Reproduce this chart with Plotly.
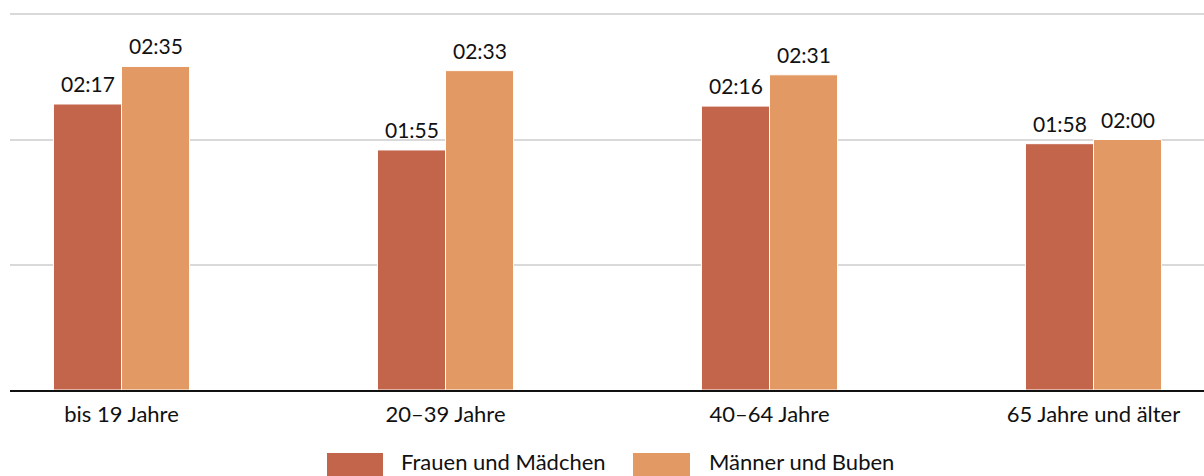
import plotly.graph_objects as go

categories = ["bis 19 Jahre", "20–39 Jahre", "40–64 Jahre", "65 Jahre und älter"]
frauen_min = [137, 115, 136, 118]   # minutes
maenner_min = [155, 153, 151, 120]  # minutes
series_names = ["Frauen und Mädchen", "Männer und Buben"]
colors = ["#C2654B", "#E29963"]

def fmt(m):
    return f"{m // 60:02d}:{m % 60:02d}"

FONT = "Lato"
W, H = 1204, 476
ML, MR, MT, MB = 10, 0, 13, 86

fig = go.Figure()
for name, vals, col in zip(series_names, [frauen_min, maenner_min], colors):
    fig.add_trace(go.Bar(
        x=categories, y=vals, name=name,
        marker=dict(color=col, line=dict(color="white", width=1)),
        showlegend=False, hoverinfo="skip",
    ))

# value labels above each bar (offset to the bar's side of the group)
for vals, xs in zip([frauen_min, maenner_min], [-34, 34]):
    for c, v in zip(categories, vals):
        fig.add_annotation(x=c, y=v, xshift=xs, yshift=6, yanchor="bottom",
                           showarrow=False, text=fmt(v),
                           font=dict(family=FONT, size=21, color="#111111"))

fig.update_layout(
    width=W, height=H,
    margin=dict(l=ML, r=MR, t=MT, b=MB),
    paper_bgcolor="white", plot_bgcolor="white",
    barmode="group", bargap=0.58, bargroupgap=0,
    font=dict(family=FONT, color="#111111"),
)
fig.update_xaxes(
    type="category",
    range=[(ML - 121.5) / 324, (W - 121.5) / 324],
    showline=True, linecolor="#111111", linewidth=1.5,
    showgrid=False, ticks="outside", ticklen=4, tickcolor="white",
    tickfont=dict(family=FONT, size=22, color="#111111"),
)
fig.update_yaxes(
    range=[0, 180.6], tickvals=[60, 120, 180], showticklabels=False,
    showgrid=True, gridcolor="#D9D9D9", gridwidth=2, zeroline=False,
)

# custom legend with large swatches
pw = W - ML - MR
ph = H - MT - MB
def px_x(p):
    return (p - ML) / pw
def px_y(p):
    return (H - MB - p) / ph

legend_items = [(327, 383, 399), (633, 690, 707)]
for (x0, x1, tx), name, col in zip(legend_items, series_names, colors):
    fig.add_shape(type="rect", xref="paper", yref="paper",
                  x0=px_x(x0), x1=px_x(x1), y0=px_y(480), y1=px_y(453),
                  fillcolor=col, line=dict(width=0))
    fig.add_annotation(xref="paper", yref="paper", x=px_x(tx), y=px_y(462),
                       xanchor="left", yanchor="middle", showarrow=False,
                       text=name, font=dict(family=FONT, size=22, color="#111111"))

fig.write_html("out.html", config={"displayModeBar": False})
with open("out.html", encoding="utf-8") as f:
    html = f.read()
html = html.replace("<head>", "<head><style>html,body{margin:0;padding:0;overflow:hidden;}</style>", 1)
with open("out.html", "w", encoding="utf-8") as f:
    f.write(html)
